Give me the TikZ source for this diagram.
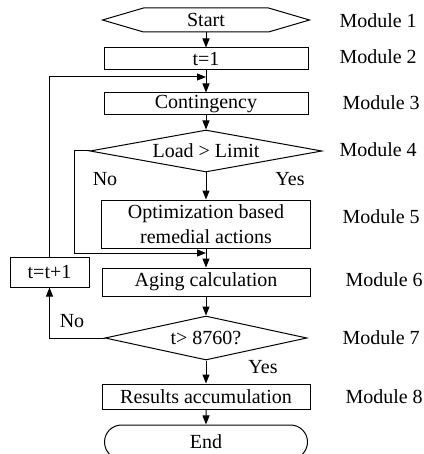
\documentclass[tikz,border=0pt]{standalone}
\usepackage{fontspec}
\setmainfont{Liberation Serif}
\usetikzlibrary{arrows.meta, positioning, shapes.geometric, shapes.misc}

\begin{document}
\begin{tikzpicture}[
    x=0.5pt, y=-0.5pt, line width=0.5pt,
    font=\fontsize{10}{12.5}\selectfont,
    block/.style={draw, inner sep=0pt, minimum width=102pt, minimum height=11pt, align=center},
    decision/.style={draw, diamond, aspect=5, inner sep=0pt},
    modtext/.style={anchor=west, inner sep=0pt},
    arrow/.style={-{Triangle[length=4.5pt, width=3.5pt]}}
]
\useasboundingbox (0,0) rectangle (423,454);

% main column
\node[minimum width=62pt, minimum height=11.5pt, inner sep=0pt] (start) at (206,20) {Start};
\draw ([xshift=-20.5pt]start.west) -- (start.north west) -- (start.north east)
    -- ([xshift=20.5pt]start.east) -- (start.south east) -- (start.south west) -- cycle;
\node[block] (t1) at (206,59) {t=1};
\node[block] (cont) at (206,104) {Contingency};
\node[decision, minimum width=116pt, minimum height=21pt] (load) at (206,151) {Load > Limit};
\node[block, minimum width=104.5pt, minimum height=24pt] (opt) at (206,224) {Optimization based\\remedial actions};
\node[block, minimum width=104pt, minimum height=14pt] (aging) at (206,282) {Aging calculation};
\node[decision, minimum width=101pt, minimum height=22pt] (tcheck) at (206,338) {t> 8760?};
\node[block, minimum width=104pt, minimum height=12.5pt] (results) at (206,396.5) {Results accumulation};
\node[draw, rounded rectangle, inner sep=0pt, minimum width=101.5pt, minimum height=17pt] (stop) at (206,442) {End};

% counter box
\node[block, minimum width=39.5pt, minimum height=15pt] (tinc) at (49.5,272) {t=t+1};

% module names
\node[modtext] (m1) at (339,21) {Module 1};
\node[modtext] (m2) at (339,57) {Module 2};
\node[modtext] (m3) at (342,103) {Module 3};
\node[modtext] (m4) at (339,150) {Module 4};
\node[modtext] (m5) at (342,217) {Module 5};
\node[modtext] (m6) at (345,280) {Module 6};
\node[modtext] (m7) at (342,338) {Module 7};
\node[modtext] (m8) at (345,397) {Module 8};

% branch labels
\node (no1) at (105,179) {No};
\node (yes1) at (290,179) {Yes};
\node (no2) at (72,321) {No};
\node (yes2) at (263,367) {Yes};

\coordinate (join1) at (206,77);
\coordinate (join2) at (206,253);
\coordinate (bend1) at (74,253);

\draw[arrow] (start) -- (t1);
\draw[arrow] (t1) -- (cont);
\draw[arrow] (cont) -- (load);
\draw[arrow] (load) -- (opt);
\draw[arrow] (opt) -- (aging);
\draw[arrow] (aging) -- (tcheck);
\draw[arrow] (tcheck) -- (results);
\draw[arrow] (results) -- (stop);

\draw[arrow] (tinc.north) |- (join1);
\draw[arrow] (load.west) -| (bend1) -- (join2);
\draw[arrow] (tcheck.west) -| (tinc.south);
\end{tikzpicture}
\end{document}
